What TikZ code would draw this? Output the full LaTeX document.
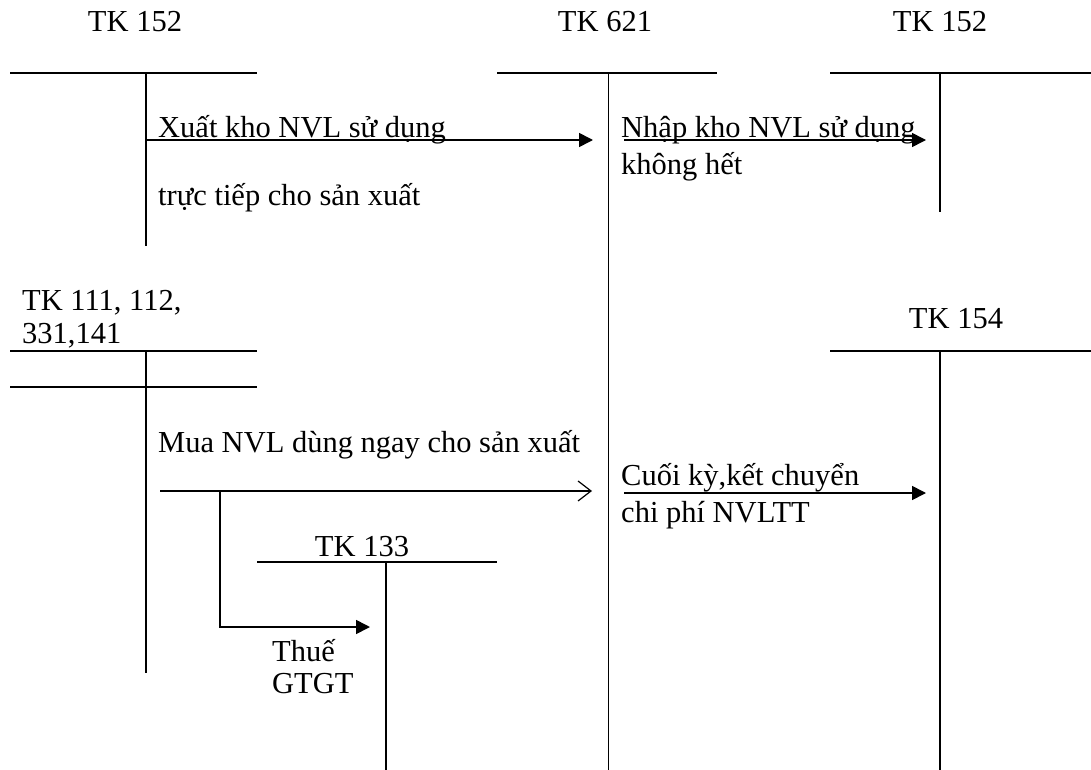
\documentclass[tikz,border=0pt]{standalone}
\usepackage{fontspec}
\setmainfont{Liberation Serif}
\usetikzlibrary{arrows.meta}
\begin{document}
\begin{tikzpicture}[x=1pt,y=-1pt,
  acc/.style={line width=1.8pt},
  lbl/.style={inner sep=0pt,anchor=base west,font=\fontsize{30.5}{34}\selectfont},
  ttl/.style={inner sep=0pt,anchor=base,font=\fontsize{30.5}{34}\selectfont},
  fl/.style={line width=1.6pt,-{Triangle[length=14pt,width=14pt]}},
  op/.style={line width=1.2pt,-{Straight Barb[length=13pt,width=20pt,line width=1.2pt]}}]
\useasboundingbox (0,0) rectangle (1091,770);
% account titles
\node[ttl] (t1) at (135,32) {TK 152};
\node[ttl] (t2) at (605,32) {TK 621};
\node[ttl] (t3) at (940,32) {TK 152};
\node[lbl] (t4) at (22,310) {TK 111, 112,};
\node[lbl] (t5) at (22,343) {331,141};
\node[ttl] (t6) at (956,328) {TK 154};
\node[ttl] (t7) at (362,556) {TK 133};
% T accounts
\coordinate (a1l) at (10,73); \coordinate (a1r) at (257,73);
\coordinate (a1t) at (146,73); \coordinate (a1b) at (146,246);
\draw[acc] (a1l) -- (a1r); \draw[acc] (a1t) -- (a1b);
\coordinate (a2l) at (497,73); \coordinate (a2r) at (717,73);
\coordinate (a2t) at (608,73); \coordinate (a2b) at (608,770);
\draw[acc] (a2l) -- (a2r); \draw[line width=1pt] (a2t) -- (a2b);
\coordinate (a3l) at (830,73); \coordinate (a3r) at (1091,73);
\coordinate (a3t) at (940,73); \coordinate (a3b) at (940,212);
\draw[acc] (a3l) -- (a3r); \draw[acc] (a3t) -- (a3b);
\coordinate (a4l) at (10,351); \coordinate (a4r) at (257,351);
\coordinate (a4l2) at (10,387); \coordinate (a4r2) at (257,387);
\coordinate (a4t) at (146,351); \coordinate (a4b) at (146,673);
\draw[acc] (a4l) -- (a4r); \draw[acc] (a4l2) -- (a4r2); \draw[acc] (a4t) -- (a4b);
\coordinate (a5l) at (830,351); \coordinate (a5r) at (1091,351);
\coordinate (a5t) at (940,351); \coordinate (a5b) at (940,770);
\draw[acc] (a5l) -- (a5r); \draw[acc] (a5t) -- (a5b);
\coordinate (a6l) at (257,562); \coordinate (a6r) at (497,562);
\coordinate (a6t) at (386,562); \coordinate (a6b) at (386,770);
\draw[acc] (a6l) -- (a6r); \draw[acc] (a6t) -- (a6b);
% arrows and labels
\node[lbl] (x1) at (158,138) {Xuất kho NVL sử dụng};
\node[lbl] (x2) at (158,205) {trực tiếp cho sản xuất};
\coordinate (r1s) at (146,140); \coordinate (r1e) at (593,140);
\draw[fl] (r1s) -- (r1e);
\node[lbl] (n1) at (621,138) {Nhập kho NVL sử dụng};
\node[lbl] (n2) at (621,175) {không hết};
\coordinate (r2s) at (624,140); \coordinate (r2e) at (926,140);
\draw[fl] (r2s) -- (r2e);
\node[lbl] (m1) at (158,452) {Mua NVL dùng ngay cho sản xuất};
\coordinate (r3s) at (160,491); \coordinate (r3e) at (592,491);
\draw[op] (r3s) -- (r3e);
\coordinate (br) at (220,491); \coordinate (bd) at (220,627); \coordinate (be) at (370,627);
\draw[fl] (br) -- (bd) -- (be);
\node[lbl] (g1) at (272,661) {Thuế};
\node[lbl] (g2) at (272,693) {GTGT};
\node[lbl] (c1) at (621,485) {Cuối kỳ,kết chuyển};
\node[lbl] (c2) at (621,522) {chi phí NVLTT};
\coordinate (r4s) at (624,493); \coordinate (r4e) at (926,493);
\draw[fl] (r4s) -- (r4e);
\end{tikzpicture}
\end{document}
